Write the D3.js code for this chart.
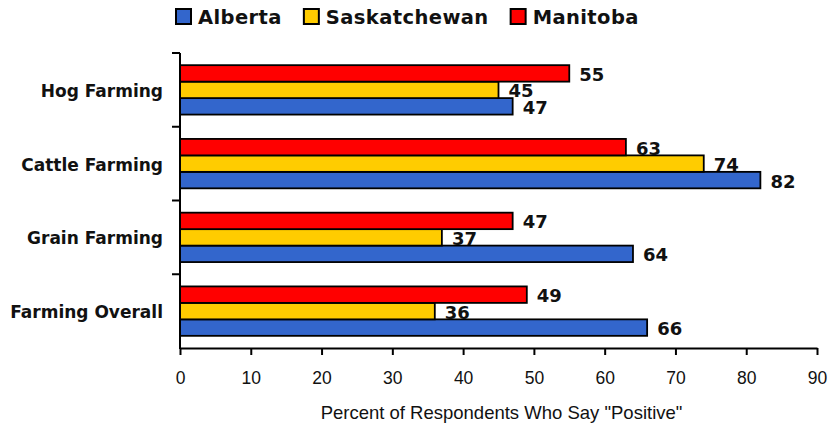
<!DOCTYPE html>
<html>
<head>
<meta charset="utf-8">
<script src="https://cdn.jsdelivr.net/npm/d3@7"></script>
<style>
  body { margin: 0; background: #fff; }
  svg { display: block; }
</style>
</head>
<body>
<svg id="chart" width="828" height="429"></svg>
<script>
const categories = ["Hog Farming", "Cattle Farming", "Grain Farming", "Farming Overall"];
const seriesNames = ["Alberta", "Saskatchewan", "Manitoba"];
const alberta = [47, 82, 64, 66];
const saskatchewan = [45, 74, 37, 36];
const manitoba = [55, 63, 47, 49];
const xTicks = [0, 10, 20, 30, 40, 50, 60, 70, 80, 90];
const colors = { Alberta: "#3366CC", Saskatchewan: "#FFCC00", Manitoba: "#FF0000" };

const values = { Alberta: alberta, Saskatchewan: saskatchewan, Manitoba: manitoba };
const svg = d3.select("#chart");

const x = d3.scaleLinear().domain([0, 90]).range([180, 817]);
const y = d3.scaleBand().domain(categories).range([53, 348])
  .paddingInner(0.33).paddingOuter(0.165);
// Manitoba on top, Alberta at bottom inside each group
const ySub = d3.scaleBand().domain(["Manitoba", "Saskatchewan", "Alberta"])
  .range([0, y.bandwidth()]).padding(0);

const rows = [];
categories.forEach((c, i) => {
  seriesNames.forEach(s => rows.push({ cat: c, series: s, value: values[s][i] }));
});

// bars
svg.append("g").selectAll("rect")
  .data(rows)
  .join("rect")
  .attr("x", x(0))
  .attr("y", d => y(d.cat) + ySub(d.series))
  .attr("width", d => x(d.value) - x(0))
  .attr("height", ySub.bandwidth())
  .attr("fill", d => colors[d.series])
  .attr("stroke", "#000")
  .attr("stroke-width", 1.8);

// value labels
svg.append("g").selectAll("text")
  .data(rows)
  .join("text")
  .attr("x", d => x(d.value) + 10)
  .attr("y", d => y(d.cat) + ySub(d.series) + ySub.bandwidth() / 2 + 1)
  .attr("dominant-baseline", "central")
  .attr("font-family", "DejaVu Sans")
  .attr("font-weight", "bold")
  .attr("font-size", 18)
  .attr("fill", "#111")
  .text(d => d.value);

// x axis
const xAxis = svg.append("g")
  .attr("transform", "translate(0,348)")
  .call(d3.axisBottom(x).tickValues(xTicks).tickSize(7).tickPadding(17).tickSizeOuter(0));
xAxis.select(".domain").attr("stroke", "#000").attr("stroke-width", 2);
xAxis.selectAll(".tick line").attr("stroke", "#000").attr("stroke-width", 2);
xAxis.selectAll(".tick text")
  .attr("font-family", "Liberation Sans")
  .attr("font-size", 17.5)
  .attr("fill", "#111");

// y axis: ticks between groups
const yEdges = [53].concat(categories.map(c => y(c) + y.bandwidth() + y.step() * y.paddingInner() / 2));
const yAxis = svg.append("g");
yAxis.append("line")
  .attr("x1", x(0)).attr("x2", x(0))
  .attr("y1", 53).attr("y2", 349)
  .attr("stroke", "#000").attr("stroke-width", 2);
yAxis.selectAll("line.tick")
  .data(yEdges.slice(0, 4))
  .join("line")
  .attr("class", "tick")
  .attr("x1", x(0) - 8).attr("x2", x(0))
  .attr("y1", d => d).attr("y2", d => d)
  .attr("stroke", "#000").attr("stroke-width", 2);
yAxis.selectAll("text")
  .data(categories)
  .join("text")
  .attr("x", 163)
  .attr("y", d => y(d) + y.bandwidth() / 2 + 1)
  .attr("dominant-baseline", "central")
  .attr("text-anchor", "end")
  .attr("font-family", "DejaVu Sans")
  .attr("font-weight", "bold")
  .attr("font-size", 17)
  .attr("fill", "#111")
  .text(d => d);

// axis title
svg.append("text")
  .attr("x", (x(0) + x(90)) / 2 + 3)
  .attr("y", 419)
  .attr("text-anchor", "middle")
  .attr("font-family", "Liberation Sans")
  .attr("font-size", 18.5)
  .attr("fill", "#111")
  .text('Percent of Respondents Who Say "Positive"');

// legend
const legend = svg.append("g");
let lx = 175;
seriesNames.forEach(s => {
  legend.append("rect")
    .attr("x", lx + 1).attr("y", 9)
    .attr("width", 15).attr("height", 15)
    .attr("fill", colors[s])
    .attr("stroke", "#000").attr("stroke-width", 2);
  const t = legend.append("text")
    .attr("x", lx + 23)
    .attr("y", 24)
    .attr("font-family", "DejaVu Sans")
    .attr("font-weight", "bold")
    .attr("font-size", 19.5)
    .attr("letter-spacing", 0.4)
    .attr("fill", "#111")
    .text(s);
  lx = lx + 23 + t.node().getComputedTextLength() + 21;
});
</script>
</body>
</html>
